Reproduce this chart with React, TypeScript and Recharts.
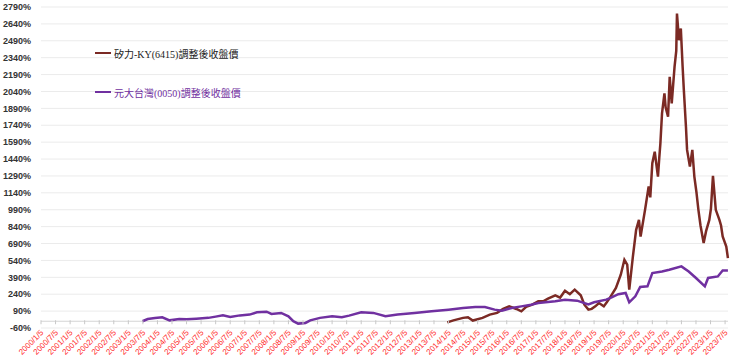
import React from 'react';
import { CartesianGrid, Line, LineChart, ReferenceLine, XAxis, YAxis } from 'recharts';

const xTickLabels = [
  '2000/1/5', '2000/7/5', '2001/1/5', '2001/7/5', '2002/1/5', '2002/7/5', '2003/1/5', '2003/7/5',
  '2004/1/5', '2004/7/5', '2005/1/5', '2005/7/5', '2006/1/5', '2006/7/5', '2007/1/5', '2007/7/5',
  '2008/1/5', '2008/7/5', '2009/1/5', '2009/7/5', '2010/1/5', '2010/7/5', '2011/1/5', '2011/7/5',
  '2012/1/5', '2012/7/5', '2013/1/5', '2013/7/5', '2014/1/5', '2014/7/5', '2015/1/5', '2015/7/5',
  '2016/1/5', '2016/7/5', '2017/1/5', '2017/7/5', '2018/1/5', '2018/7/5', '2019/1/5', '2019/7/5',
  '2020/1/5', '2020/7/5', '2021/1/5', '2021/7/5', '2022/1/5', '2022/7/5', '2023/1/5', '2023/7/5',
];

const yTicks = [
  -60, 90, 240, 390, 540, 690, 840, 990, 1140, 1290, 1440, 1590, 1740, 1890, 2040, 2190, 2340,
  2490, 2640, 2790,
];

// 矽力-KY(6415) adjusted close, % change
const silergyDates = [
  '2013/12/20', '2014/3/5', '2014/7/5', '2014/9/5', '2014/11/5', '2015/3/5', '2015/6/5', '2015/9/5',
  '2015/11/20', '2016/2/5', '2016/5/5', '2016/7/5', '2016/9/5', '2016/11/20', '2017/2/5', '2017/4/5',
  '2017/6/5', '2017/9/5', '2017/11/5', '2018/1/5', '2018/3/5', '2018/5/5', '2018/7/20', '2018/9/5',
  '2018/10/25', '2018/12/5', '2019/1/20', '2019/3/5', '2019/5/5', '2019/6/5', '2019/7/20', '2019/10/5',
  '2019/12/5', '2020/1/20', '2020/2/25', '2020/3/20', '2020/5/5', '2020/6/15', '2020/7/20', '2020/8/10',
  '2020/10/5', '2020/11/20', '2020/12/10', '2021/1/5', '2021/2/5', '2021/3/15', '2021/4/1', '2021/4/15',
  '2021/5/5', '2021/6/5', '2021/6/20', '2021/7/20', '2021/8/10', '2021/9/5', '2021/10/10', '2021/11/1',
  '2021/11/10', '2021/12/5', '2021/12/28', '2022/1/20', '2022/2/5', '2022/3/1', '2022/3/15', '2022/4/20',
  '2022/5/20', '2022/6/15', '2022/7/10', '2022/8/5', '2022/9/1', '2022/10/10', '2022/11/10', '2022/12/20',
  '2023/1/10', '2023/2/5', '2023/3/10', '2023/4/25', '2023/5/15', '2023/6/5', '2023/7/20', '2023/8/10',
];
const silergyValues = [
  -10, 8, 30, 35, 6, 30, 59, 74, 109, 132, 109, 88, 127, 147, 177, 177, 200, 230, 210, 270, 240, 280, 230,
  147, 103, 110, 132, 162, 132, 162, 207, 295, 413, 546, 502, 280, 575, 812, 900, 752, 989, 1196, 1100,
  1403, 1505, 1284, 1450, 1580, 1846, 2023, 1900, 1816, 2170, 1934, 2259, 2400, 2732, 2495, 2599, 2259,
  2052, 1727, 1521, 1373, 1521, 1284, 1150, 989, 850, 694, 800, 900, 1000, 1290, 989, 900, 850, 752, 664,
  561,
];

// 元大台灣(0050) adjusted close, % change
const etfDates = [
  '2003/6/30', '2003/9/5', '2003/12/5', '2004/3/5', '2004/6/5', '2004/10/5', '2005/1/5', '2005/5/5',
  '2005/10/5', '2006/1/5', '2006/4/5', '2006/7/5', '2006/11/5', '2007/3/5', '2007/6/5', '2007/10/5',
  '2007/12/5', '2008/4/5', '2008/7/5', '2008/9/5', '2008/11/5', '2009/2/5', '2009/4/5', '2009/8/5',
  '2010/1/5', '2010/5/5', '2010/8/5', '2011/1/5', '2011/6/5', '2011/11/5', '2012/4/5', '2012/11/5',
  '2013/6/5', '2014/1/5', '2014/7/5', '2014/12/5', '2015/4/5', '2015/8/5', '2015/11/5', '2016/3/5',
  '2016/7/5', '2016/11/5', '2017/2/5', '2017/9/5', '2018/1/5', '2018/6/5', '2018/10/25', '2019/1/5',
  '2019/6/5', '2019/8/5', '2019/11/5', '2020/2/5', '2020/3/20', '2020/6/5', '2020/8/5', '2020/11/5',
  '2021/1/5', '2021/5/5', '2021/8/5', '2022/1/5', '2022/4/5', '2022/7/5', '2022/10/25', '2022/12/5',
  '2023/4/5', '2023/6/5', '2023/8/10',
];
const etfValues = [
  0, 20, 28, 35, 8, 20, 18, 23, 30, 41, 52, 38, 52, 59, 79, 85, 65, 74, 44, 0, -21, -15, 8, 30, 44, 35,
  50, 79, 74, 44, 59, 74, 88, 103, 118, 127, 127, 103, 94, 118, 132, 147, 162, 177, 190, 183, 150, 168,
  192, 210, 240, 251, 168, 221, 304, 310, 428, 442, 457, 487, 442, 384, 310, 384, 398, 451, 451,
];

const toYear = (d: string) => {
  const [y, m, day] = d.split('/').map(Number);
  return y + (m - 1) / 12 + (day - 5) / 365;
};

const silergyData = silergyDates.map((d, i) => ({ t: toYear(d), v: silergyValues[i] }));
const etfData = etfDates.map((d, i) => ({ t: toYear(d), v: etfValues[i] }));
const xTicks = xTickLabels.map(toYear);
const labelByTick = new Map(xTicks.map((t, i) => [t, xTickLabels[i]]));

const BROWN = '#7b2a24';
const PURPLE = '#7030a0';
const PLOT_HEIGHT = 321;
const zeroOffset = ((0 - yTicks[0]) / (yTicks[yTicks.length - 1] - yTicks[0])) * PLOT_HEIGHT;

function XTick({ x, y, payload }: any) {
  const axisY = y - zeroOffset;
  const ty = axisY + 10;
  return (
    <g>
      <line x1={x} x2={x} y1={axisY - 1} y2={axisY + 3} stroke="#c8c8c8" />
      <text
        x={x + 1}
        y={ty}
        dy="0.35em"
        textAnchor="end"
        transform={`rotate(-45, ${x + 1}, ${ty})`}
        fontSize={8}
        fontFamily="'Liberation Sans', Arial, sans-serif"
        fill="#ff2a2a"
      >
        {labelByTick.get(payload.value)}
      </text>
    </g>
  );
}

const legendItems = [
  { name: '矽力-KY(6415)調整後收盤價', color: BROWN, textColor: '#1a1a1a', top: 46 },
  { name: '元大台灣(0050)調整後收盤價', color: PURPLE, textColor: PURPLE, top: 85 },
];

export default function App() {
  return (
    <div style={{ position: 'absolute', left: 0, top: 0, width: 740, height: 361, background: '#fff' }}>
      <LineChart width={740} height={361} margin={{ top: 7, right: 12, bottom: 0, left: 0 }}>
        <CartesianGrid vertical={false} stroke="#ebebeb" />
        <XAxis
          type="number"
          dataKey="t"
          domain={[xTicks[0], 2023.6]}
          ticks={xTicks}
          interval={0}
          height={33}
          axisLine={false}
          tickLine={false}
          tickSize={0}
          tickMargin={0}
          tick={<XTick />}
        />
        <YAxis
          type="number"
          domain={[yTicks[0], yTicks[yTicks.length - 1]]}
          ticks={yTicks}
          interval={0}
          width={41}
          axisLine={false}
          tickLine={false}
          tickSize={0}
          tickMargin={10}
          tickFormatter={(v: number) => `${v}%`}
          tick={{ fontSize: 9, fontWeight: 700, fill: '#333', fontFamily: "'Liberation Sans', Arial, sans-serif" }}
        />
        <ReferenceLine y={0} stroke="#d4d4d4" />
        <Line
          data={silergyData}
          dataKey="v"
          type="linear"
          stroke={BROWN}
          strokeWidth={2.5}
          dot={false}
          isAnimationActive={false}
        />
        <Line
          data={etfData}
          dataKey="v"
          type="linear"
          stroke={PURPLE}
          strokeWidth={2.5}
          dot={false}
          isAnimationActive={false}
        />
      </LineChart>
      {legendItems.map((item) => (
        <div
          key={item.name}
          style={{
            position: 'absolute',
            left: 95,
            top: item.top,
            height: 14,
            display: 'flex',
            alignItems: 'center',
            fontSize: 10,
            fontFamily: "'Liberation Serif', 'Noto Sans CJK TC', serif",
            color: item.textColor,
            whiteSpace: 'nowrap',
          }}
        >
          <span style={{ display: 'inline-block', width: 16, height: 2, background: item.color, marginRight: 3 }} />
          {item.name}
        </div>
      ))}
    </div>
  );
}
